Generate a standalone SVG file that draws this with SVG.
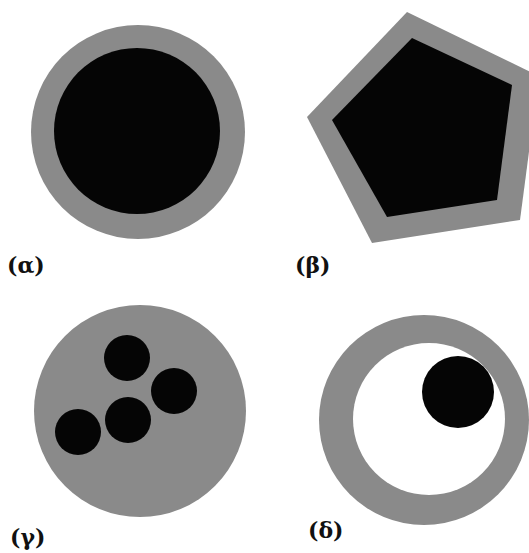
<svg xmlns="http://www.w3.org/2000/svg" width="529" height="553" viewBox="0 0 529 553">
<style>
.g{fill:#8a8a8a}
.k{fill:#050505}
.w{fill:#ffffff}
.lbl{font-family:'DejaVu Serif',serif;font-weight:bold;font-size:22px;fill:#111}
</style>
<rect width="529" height="553" fill="#ffffff"/>
<g id="alpha">
<circle class="g" cx="138" cy="132" r="107"/>
<circle class="k" cx="137" cy="131" r="83"/>
<text class="lbl" x="7" y="273">(α)</text>
</g>
<g id="beta">
<polygon class="g" points="407,12 539,76 520,220 372,243 307,117"/>
<polygon class="k" points="412,38 512,85 497,200 387,217 332,120"/>
<text class="lbl" x="295" y="273">(β)</text>
</g>
<g id="gamma">
<circle class="g" cx="140" cy="411" r="106"/>
<circle class="k" cx="127" cy="358" r="23"/>
<circle class="k" cx="174" cy="391" r="23"/>
<circle class="k" cx="128" cy="420" r="23"/>
<circle class="k" cx="78" cy="432" r="23"/>
<text class="lbl" x="10" y="545">(γ)</text>
</g>
<g id="delta">
<circle class="g" cx="424" cy="420" r="105"/>
<circle class="w" cx="429" cy="419" r="76"/>
<circle class="k" cx="458" cy="392" r="36"/>
<text class="lbl" x="308" y="538">(δ)</text>
</g>
<g id="connectors"/>
</svg>
